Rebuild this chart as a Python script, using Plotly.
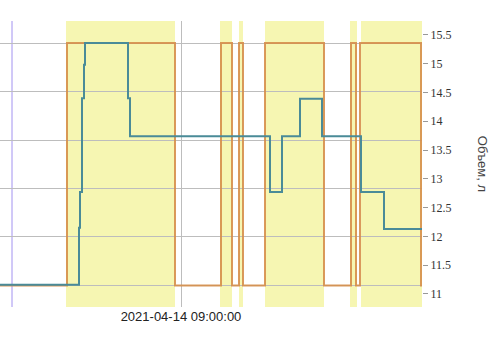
import plotly.graph_objects as go

# ---- data ----
state_times = ["2021-04-14 05:59", "2021-04-14 07:06", "2021-04-14 08:54", "2021-04-14 09:40",
               "2021-04-14 09:51", "2021-04-14 09:58", "2021-04-14 10:02", "2021-04-14 10:24",
               "2021-04-14 11:23", "2021-04-14 11:50", "2021-04-14 11:55", "2021-04-14 11:59",
               "2021-04-14 13:00", "2021-04-14 13:01"]
state_values = [0, 1, 0, 1, 0, 1, 0, 1, 0, 1, 0, 1, 0, 0]

volume_times = ["2021-04-14 05:59", "2021-04-14 07:18", "2021-04-14 07:19", "2021-04-14 07:21",
                "2021-04-14 07:23", "2021-04-14 07:24", "2021-04-14 08:07", "2021-04-14 08:09",
                "2021-04-14 10:29", "2021-04-14 10:41", "2021-04-14 10:59", "2021-04-14 11:21",
                "2021-04-14 12:00", "2021-04-14 12:23", "2021-04-14 13:01"]
volume_values = [11.16, 12.15, 12.77, 14.40, 14.98, 15.36, 14.40, 13.74,
                 12.77, 13.74, 14.39, 13.74, 12.77, 12.13, 12.13]

active_starts = ["2021-04-14 07:05", "2021-04-14 09:39", "2021-04-14 09:58",
                 "2021-04-14 10:24", "2021-04-14 11:49", "2021-04-14 12:00"]
active_ends = ["2021-04-14 08:54", "2021-04-14 09:51", "2021-04-14 10:02",
               "2021-04-14 11:23", "2021-04-14 11:56", "2021-04-14 13:01"]

marker_time = "2021-04-14 06:11"
x_range = ["2021-04-14 05:59", "2021-04-14 13:01"]
x_tickvals = ["2021-04-14 09:00:00"]
x_ticktext = ["2021-04-14 09:00:00"]
y2_tickvals = [11, 11.5, 12, 12.5, 13, 13.5, 14, 14.5, 15, 15.5]
axis_title = "Объем, л"

# ---- figure ----
fig = go.Figure()

fig.add_trace(go.Scatter(
    x=state_times, y=state_values, mode="lines", line_shape="hv",
    line=dict(color="#d68f4c", width=2), opacity=0.9, yaxis="y", showlegend=False,
    hoverinfo="skip"))

fig.add_trace(go.Scatter(
    x=volume_times, y=volume_values, mode="lines", line_shape="hv",
    line=dict(color="#4a8b98", width=2), yaxis="y2", showlegend=False))

for s, e in zip(active_starts, active_ends):
    fig.add_shape(type="rect", xref="x", yref="paper", x0=s, x1=e, y0=0, y1=1,
                  fillcolor="rgb(242,242,145)", opacity=0.7, line_width=0,
                  layer="between")

fig.add_shape(type="line", xref="x", yref="paper", x0=marker_time, x1=marker_time,
              y0=0, y1=1, line=dict(color="#a292f0", width=1), layer="between")

fig.add_annotation(text=axis_title, xref="paper", yref="paper", x=1.145, y=0.5,
                   xanchor="center", yanchor="middle", textangle=90, showarrow=False,
                   font=dict(family="Liberation Sans", size=13, color="#444"))

fig.update_layout(
    width=502, height=353,
    margin=dict(l=0, r=80, t=21, b=46),
    paper_bgcolor="white", plot_bgcolor="white",
    xaxis=dict(type="date", range=x_range, tickvals=x_tickvals, ticktext=x_ticktext,
               showgrid=True, gridcolor="#bdbdbd", gridwidth=1, zeroline=False,
               showline=False, ticks="",
               tickfont=dict(family="Liberation Sans", size=13, color="#222")),
    yaxis=dict(range=[-0.089, 1.091], dtick=0.2, tick0=0, showticklabels=False,
               showgrid=True, gridcolor="#bdbdbd", gridwidth=1, zeroline=False,
               showline=False, ticks=""),
    yaxis2=dict(range=[10.774, 15.74], tickvals=y2_tickvals, overlaying="y", side="right",
                showgrid=False, zeroline=False, showline=False, ticks="outside",
                ticklen=5, tickcolor="#999",
                tickfont=dict(family="Liberation Serif", size=12, color="#333")),
)

fig.write_html("out.html")
